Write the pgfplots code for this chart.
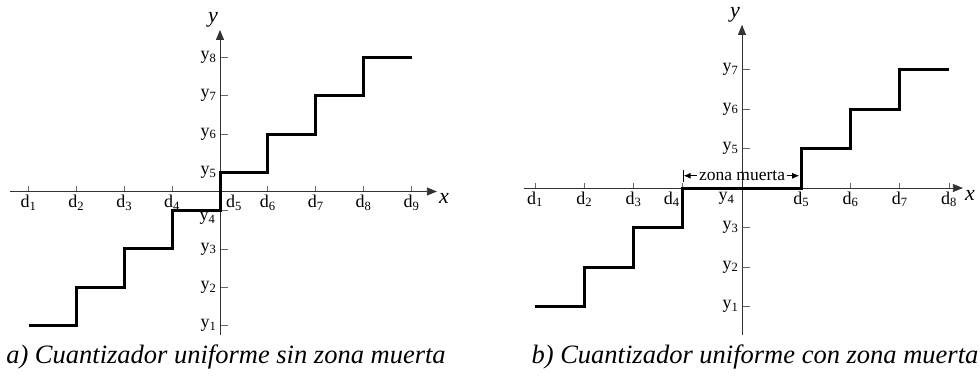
\documentclass[border=0pt]{standalone}
\usepackage{fontspec}
\setmainfont{Liberation Serif}
\usepackage{pgfplots}
\pgfplotsset{compat=1.18}
\usetikzlibrary{arrows.meta}

% Subscripted labels for thresholds (d) and output levels (y)
\newcommand{\lab}[2]{#1\textsubscript{#2}}

\pgfplotsset{
  quant/.style={
    axis lines=middle,
    clip=false,
    tick align=inside,
    major tick length=7pt,
    axis line style={black!80, line width=0.8pt, -{Triangle[length=10pt,width=8pt]}},
    tick style={black!60, line width=0.8pt},
    xtick style={/pgfplots/major tick length=5.5pt},
    ytick style={/pgfplots/major tick length=8pt},
    ticklabel style={font=\fontsize{18}{20}\selectfont},
    every axis x label/.style={at={(current axis.right of origin)}, anchor=north west, inner sep=2pt, font=\fontsize{22}{24}\selectfont\itshape},
    every axis y label/.style={at={(current axis.above origin)}, anchor=south east, inner sep=2pt, font=\fontsize{22}{24}\selectfont\itshape},
    xlabel={x}, ylabel={y},
  },
  step/.style={const plot, black, line width=3pt, line join=miter, no marks},
}

\begin{document}
\begin{tikzpicture}
\useasboundingbox (0,0) rectangle (980pt,-376pt);

% a) uniform quantizer without dead zone
\begin{axis}[quant,
  at={(220pt,-191.5pt)}, anchor=origin,
  x=47.875pt, y=38.29pt,
  xmin=-4.386, xmax=4.53, ymin=-3.75, ymax=4.22,
  xtick={-4,-3,-2,-1,1,2,3,4},
  xticklabels={\lab{d}{1},\lab{d}{2},\lab{d}{3},\raisebox{2pt}{\lab{d}{4}},\lab{d}{6},\lab{d}{7},\lab{d}{8},\lab{d}{9}},
  extra x ticks={0},
  extra x tick labels={\lab{d}{5}},
  extra x tick style={/pgfplots/major tick length=0pt, xticklabel style={xshift=14pt}},
  ytick={-3.5,-2.5,-1.5,0.5,1.5,2.5,3.5},
  yticklabels={\lab{y}{1},\lab{y}{2},\lab{y}{3},\lab{y}{5},\lab{y}{6},\lab{y}{7},\lab{y}{8}},
  extra y ticks={-0.5},
  extra y tick labels={\lab{y}{4}},
  extra y tick style={yticklabel style={yshift=-8pt, xshift=-1pt}},
]
\addplot[step] coordinates {
  (-4,-3.5) (-3,-2.5) (-2,-1.5) (-1,-0.5) (0,0.5) (1,1.5) (2,2.5) (3,3.5) (4,3.5)
};
\end{axis}

% b) uniform quantizer with dead zone
\begin{axis}[quant,
  at={(742pt,-188pt)}, anchor=origin,
  x=49.3pt, y=39.5pt,
  xmin=-4.42, xmax=4.48, ymin=-3.72, ymax=4.13,
  xtick={-4.2,-3.2,-2.2,1.2,2.2,3.2,4.2},
  xticklabels={\lab{d}{1},\lab{d}{2},\lab{d}{3},\lab{d}{5},\lab{d}{6},\lab{d}{7},\lab{d}{8}},
  extra x ticks={-1.2},
  extra x tick labels={\lab{d}{4}},
  extra x tick style={xticklabel style={xshift=-11pt}},
  ytick={-3,-2,-1,1,2,3},
  yticklabels={\lab{y}{1},\lab{y}{2},\lab{y}{3},\lab{y}{5},\lab{y}{6},\lab{y}{7}},
  extra y ticks={0},
  extra y tick labels={\lab{y}{4}},
  extra y tick style={/pgfplots/major tick length=0pt, yticklabel style={anchor=north east, xshift=-4pt, yshift=-1pt}},
]
\addplot[step] coordinates {
  (-4.2,-3) (-3.2,-2) (-2.2,-1) (-1.2,0) (1.2,1) (2.2,2) (3.2,3) (4.2,3)
};
% dead-zone width marker
\node[font=\fontsize{17.5}{18}\selectfont, inner sep=1.5pt] (zm) at (axis cs:0,0.31) {zona muerta};
\draw[line width=0.8pt, {Bar[width=12pt].Latex[length=7pt,width=6pt]}-] (axis cs:-1.2,0.31) -- (zm.west);
\draw[line width=0.8pt, -{Latex[length=7pt,width=6pt]}] (zm.east) -- (axis cs:1.16,0.31);
\end{axis}

\node[font=\fontsize{26.5}{28}\selectfont\itshape] at (226pt,-357pt) {a) Cuantizador uniforme sin zona muerta};
\node[font=\fontsize{26.5}{28}\selectfont\itshape] at (755pt,-357pt) {b) Cuantizador uniforme con zona muerta};
\end{tikzpicture}
\end{document}
